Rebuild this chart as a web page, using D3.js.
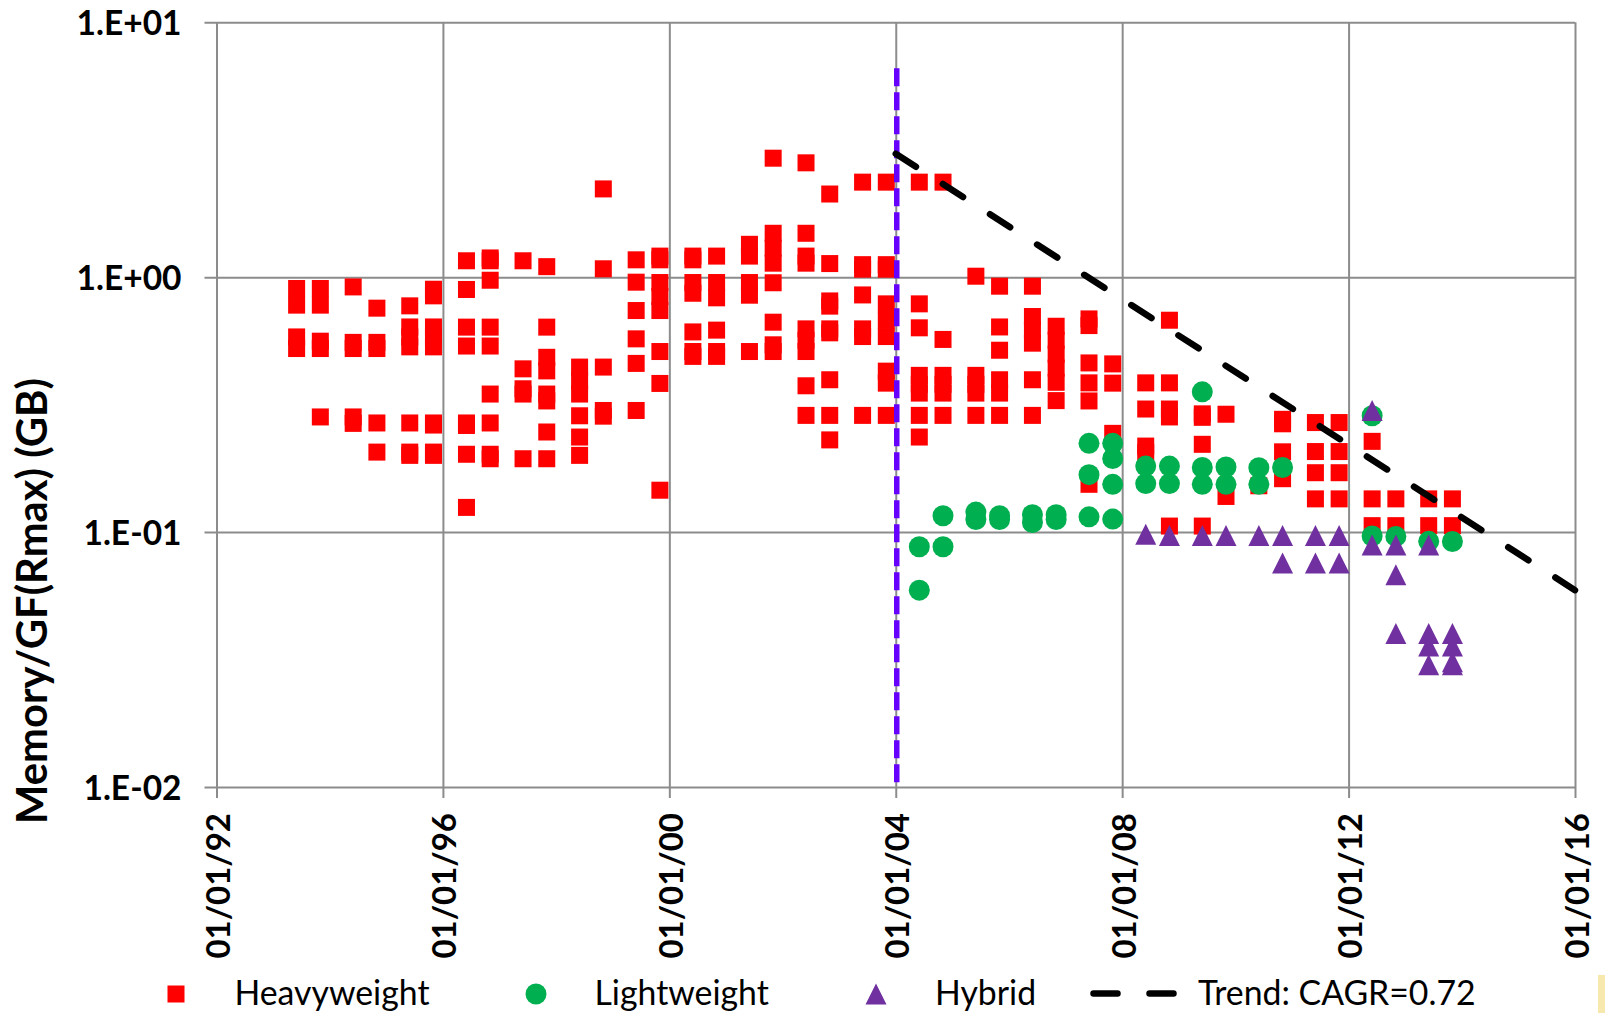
<!DOCTYPE html>
<html>
<head>
<meta charset="utf-8">
<script src="https://cdn.jsdelivr.net/npm/d3@7"></script>
<style>
  html, body { margin: 0; padding: 0; background: #fff; }
  svg { display: block; font-family: Lato, "Open Sans", sans-serif; }
</style>
</head>
<body>
<svg id="chart" width="1605" height="1013"></svg>
<script>
// ---- data: memory per GF of Rmax (GB), one entry per TOP500 list date ----
const heavyweight = [
  ["1993-06-01", [0.903, 0.777, 0.583, 0.525]],
  ["1993-11-01", [0.903, 0.777, 0.561, 0.525, 0.283]],
  ["1994-06-01", [0.916, 0.555, 0.525, 0.283, 0.267]],
  ["1994-11-01", [0.756, 0.555, 0.525, 0.268, 0.206]],
  ["1995-06-01", [0.772, 0.638, 0.583, 0.533, 0.268, 0.206, 0.2]],
  ["1995-11-01", [0.897, 0.845, 0.638, 0.583, 0.533, 0.268, 0.263, 0.206, 0.2]],
  ["1996-06-01", [1.16, 0.895, 0.637, 0.537, 0.268, 0.262, 0.202, 0.125]],
  ["1996-11-01", [1.19, 1.16, 0.973, 0.637, 0.537, 0.348, 0.268, 0.202, 0.194]],
  ["1997-06-01", [1.16, 0.437, 0.365, 0.348, 0.194]],
  ["1997-11-01", [1.10, 0.637, 0.485, 0.429, 0.348, 0.327, 0.247, 0.194]],
  ["1998-06-01", [0.444, 0.393, 0.348, 0.286, 0.236, 0.2]],
  ["1998-11-01", [2.22, 1.079, 0.444, 0.3, 0.285]],
  ["1999-06-01", [1.17, 0.956, 0.74, 0.573, 0.459, 0.3]],
  ["1999-11-01", [1.21, 1.17, 0.953, 0.84, 0.74, 0.511, 0.383, 0.146]],
  ["2000-06-01", [1.21, 1.17, 0.953, 0.865, 0.61, 0.511, 0.489]],
  ["2000-11-01", [1.21, 0.953, 0.83, 0.62, 0.511, 0.489]],
  ["2001-06-01", [1.346, 1.21, 0.953, 0.85, 0.511]],
  ["2001-11-01", [2.93, 1.487, 1.3, 1.135, 0.951, 0.666, 0.543, 0.511]],
  ["2002-06-01", [2.81, 1.487, 1.21, 1.135, 0.627, 0.566, 0.511, 0.375, 0.287]],
  ["2002-11-01", [2.12, 1.131, 0.807, 0.77, 0.627, 0.605, 0.396, 0.287, 0.23]],
  ["2003-06-01", [2.36, 1.12, 1.075, 0.852, 0.627, 0.585, 0.287]],
  ["2003-11-01", [2.36, 1.12, 1.075, 0.786, 0.678, 0.585, 0.428, 0.384, 0.287]],
  ["2004-06-01", [2.36, 0.786, 0.633, 0.412, 0.38, 0.351, 0.287, 0.236]],
  ["2004-11-01", [2.36, 0.57, 0.412, 0.38, 0.351, 0.287]],
  ["2005-06-01", [1.009, 0.412, 0.38, 0.351, 0.287]],
  ["2005-11-01", [0.922, 0.638, 0.517, 0.396, 0.351, 0.287]],
  ["2006-06-01", [0.922, 0.701, 0.621, 0.551, 0.396, 0.287]],
  ["2006-11-01", [0.642, 0.566, 0.499, 0.44, 0.387, 0.328]],
  ["2007-06-01", [0.686, 0.646, 0.461, 0.385, 0.327, 0.154]],
  ["2007-11-01", [0.457, 0.384, 0.244]],
  ["2008-06-01", [0.385, 0.304, 0.2175, 0.205]],
  ["2008-11-01", [0.678, 0.385, 0.304, 0.283, 0.1056]],
  ["2009-06-01", [0.291, 0.282, 0.221, 0.1056]],
  ["2009-11-01", [0.29, 0.138]],
  ["2010-06-01", [0.152]],
  ["2010-11-01", [0.277, 0.266, 0.2065, 0.162]],
  ["2011-06-01", [0.269, 0.207, 0.171, 0.135]],
  ["2011-11-01", [0.269, 0.207, 0.171, 0.135]],
  ["2012-06-01", [0.227, 0.135, 0.106]],
  ["2012-11-01", [0.135, 0.106]],
  ["2013-06-01", [0.135, 0.106]],
  ["2013-11-01", [0.135, 0.106]]
];

const lightweight = [
  ["2004-06-01", [0.0876, 0.0592]],
  ["2004-11-01", [0.1159, 0.0876]],
  ["2005-06-01", [0.1198, 0.112]],
  ["2005-11-01", [0.1159, 0.112]],
  ["2006-06-01", [0.117, 0.109]],
  ["2006-11-01", [0.117, 0.112]],
  ["2007-06-01", [0.223, 0.168, 0.1148]],
  ["2007-11-01", [0.223, 0.1945, 0.154, 0.1125]],
  ["2008-06-01", [0.1815, 0.155]],
  ["2008-11-01", [0.1815, 0.155]],
  ["2009-06-01", [0.355, 0.1793, 0.154]],
  ["2009-11-01", [0.18, 0.154]],
  ["2010-06-01", [0.179, 0.154]],
  ["2010-11-01", [0.1793]],
  ["2012-06-01", [0.286, 0.0965]],
  ["2012-11-01", [0.0962]],
  ["2013-06-01", [0.092]],
  ["2013-11-01", [0.0919]]
];

const hybrid = [
  ["2008-06-01", [0.098]],
  ["2008-11-01", [0.097]],
  ["2009-06-01", [0.097]],
  ["2009-11-01", [0.097]],
  ["2010-06-01", [0.097]],
  ["2010-11-01", [0.097, 0.0757]],
  ["2011-06-01", [0.097, 0.0757]],
  ["2011-11-01", [0.097, 0.0757]],
  ["2012-06-01", [0.30, 0.089]],
  ["2012-11-01", [0.089, 0.068, 0.040]],
  ["2013-06-01", [0.089, 0.040, 0.0357, 0.0302]],
  ["2013-11-01", [0.040, 0.0357, 0.031, 0.0302]]
];

// trend: value at the start date, compounded yearly at the stated CAGR
const trendStartDate = "2004-01-01";
const trendEndDate = "2016-01-01";
const trendStartValue = 3.05;
const trendCAGR = 0.72;

// vertical marker at the start of the trend
const markerDate = "2004-01-01";
const markerRange = [0.01, 6.6];

const xTickDates = ["1992-01-01", "1996-01-01", "2000-01-01", "2004-01-01",
                    "2008-01-01", "2012-01-01", "2016-01-01"];
const yTickValues = [0.01, 0.1, 1, 10];
const yTickLabels = ["1.E-02", "1.E-01", "1.E+00", "1.E+01"];

const legendItems = [
  { key: "heavy", label: "Heavyweight" },
  { key: "light", label: "Lightweight" },
  { key: "hybrid", label: "Hybrid" },
  { key: "trend", label: "Trend: CAGR=0.72" }
];

// ---- layout ----
const parse = d3.utcParse("%Y-%m-%d");
const plotLeft = 216.5, plotRight = 1575, plotTop = 22.3, plotBottom = 787;
const plotW = plotRight - plotLeft, plotH = plotBottom - plotTop;

const colors = { heavy: "#ff0000", light: "#00b050", hybrid: "#7030a0",
                 marker: "#6600ff", grid: "#8c8c8c" };

const svg = d3.select("#chart");

const x = d3.scaleUtc()
  .domain([parse(xTickDates[0]), parse(xTickDates[xTickDates.length - 1])])
  .range([plotLeft, plotRight]);
const y = d3.scaleLog().domain([0.01, 10]).range([plotBottom, plotTop]);

const flatten = rows => rows.flatMap(([d, vs]) => vs.map(v => ({ date: parse(d), value: v })));

// ---- gridlines + axes ----
const yAxis = d3.axisLeft(y)
  .tickValues(yTickValues)
  .tickFormat((d, i) => yTickLabels[i])
  .tickSizeInner(-plotW)
  .tickSizeOuter(0)
  .tickPadding(35);

const gy = svg.append("g").attr("transform", `translate(${plotLeft},0)`).call(yAxis);
gy.select(".domain").remove();
gy.selectAll(".tick line")
  .attr("x1", -12)
  .attr("stroke", colors.grid)
  .attr("stroke-width", 2);
gy.selectAll(".tick text")
  .attr("dy", "0.36em")
  .attr("fill", "#000")
  .style("font-family", "Lato")
  .style("font-weight", 700)
  .style("font-size", "33.5px");

const xAxis = d3.axisBottom(x)
  .tickValues(xTickDates.map(parse))
  .tickFormat(d3.utcFormat("%m/%d/%y"))
  .tickSizeInner(-plotH)
  .tickSizeOuter(0);

const gx = svg.append("g").attr("transform", `translate(0,${plotBottom})`).call(xAxis);
gx.select(".domain").remove();
gx.selectAll(".tick line")
  .attr("y1", 11)
  .attr("stroke", colors.grid)
  .attr("stroke-width", 2);
gx.selectAll(".tick text")
  .attr("transform", "rotate(-90)")
  .attr("text-anchor", "end")
  .attr("x", -26)
  .attr("y", 0)
  .attr("dy", 13)
  .attr("fill", "#000")
  .style("font-family", "Lato")
  .style("font-weight", 700)
  .style("font-size", "33px");

// ---- y-axis title ----
const title = svg.append("text")
  .attr("transform", "translate(47,601) rotate(-90)")
  .attr("text-anchor", "middle")
  .attr("fill", "#000")
  .style("font-family", "Lato")
  .style("font-weight", 700)
  .attr("font-size", 40)
  .text("Memory/GF(Rmax) (GB)");
{
  const len = title.node().getComputedTextLength();
  title.attr("font-size", 40 * 446 / len);
}

// ---- marker shapes ----
const SQ = 17, CR = 10.5, TR = 10.5;
const trianglePath = `M0,${-TR}L${TR},${TR}L${-TR},${TR}Z`;

const marks = svg.append("g");

marks.append("g").selectAll("rect")
  .data(flatten(heavyweight))
  .join("rect")
  .attr("x", d => x(d.date) - SQ / 2)
  .attr("y", d => y(d.value) - SQ / 2)
  .attr("width", SQ).attr("height", SQ)
  .attr("fill", colors.heavy);

marks.append("g").selectAll("circle")
  .data(flatten(lightweight))
  .join("circle")
  .attr("cx", d => x(d.date))
  .attr("cy", d => y(d.value))
  .attr("r", CR)
  .attr("fill", colors.light);

marks.append("g").selectAll("path")
  .data(flatten(hybrid))
  .join("path")
  .attr("transform", d => `translate(${x(d.date)},${y(d.value)})`)
  .attr("d", trianglePath)
  .attr("fill", colors.hybrid);

// ---- vertical marker line ----
svg.append("line")
  .attr("x1", x(parse(markerDate)) + 1).attr("x2", x(parse(markerDate)) + 1)
  .attr("y1", y(markerRange[1])).attr("y2", y(markerRange[0]))
  .attr("stroke", colors.marker)
  .attr("stroke-width", 5.5)
  .attr("stroke-dasharray", "18 6");

// ---- trend line ----
const t0 = parse(trendStartDate), t1 = parse(trendEndDate);
const years = (t1 - t0) / (365.25 * 24 * 3600 * 1000);
const trend = [
  { date: t0, value: trendStartValue },
  { date: t1, value: trendStartValue * Math.pow(trendCAGR, years) }
];
svg.append("path")
  .datum(trend)
  .attr("d", d3.line().x(d => x(d.date)).y(d => y(d.value)))
  .attr("fill", "none")
  .attr("stroke", "#000")
  .attr("stroke-width", 6.5)
  .attr("stroke-linecap", "round")
  .attr("stroke-dasharray", "24 32");

// ---- legend ----
const legendY = 994;
const legendPos = { heavy: [176, 234.5], light: [536, 594.5], hybrid: [876, 935], trend: [1133, 1198] };
const legend = svg.append("g");
legendItems.forEach(item => {
  const [mx, tx] = legendPos[item.key];
  if (item.key === "heavy") {
    legend.append("rect").attr("x", mx - SQ / 2).attr("y", legendY - SQ / 2)
      .attr("width", SQ).attr("height", SQ).attr("fill", colors.heavy);
  } else if (item.key === "light") {
    legend.append("circle").attr("cx", mx).attr("cy", legendY).attr("r", CR).attr("fill", colors.light);
  } else if (item.key === "hybrid") {
    legend.append("path").attr("transform", `translate(${mx},${legendY})`)
      .attr("d", trianglePath).attr("fill", colors.hybrid);
  } else {
    legend.append("line").attr("x1", mx - 39.5).attr("x2", mx + 41)
      .attr("y1", legendY - 0.5).attr("y2", legendY - 0.5)
      .attr("stroke", "#000").attr("stroke-width", 6.5)
      .attr("stroke-linecap", "round").attr("stroke-dasharray", "24 32");
  }
  legend.append("text")
    .attr("x", tx).attr("y", 1005)
    .attr("fill", "#000")
    .style("font-family", "Lato")
    .style("font-size", "33.8px")
    .text(item.label);
});

// pale corner strip at the lower right edge
svg.append("rect").attr("x", 1598).attr("y", 975).attr("width", 7).attr("height", 38)
  .attr("fill", "#f7e9ad");
</script>
</body>
</html>
